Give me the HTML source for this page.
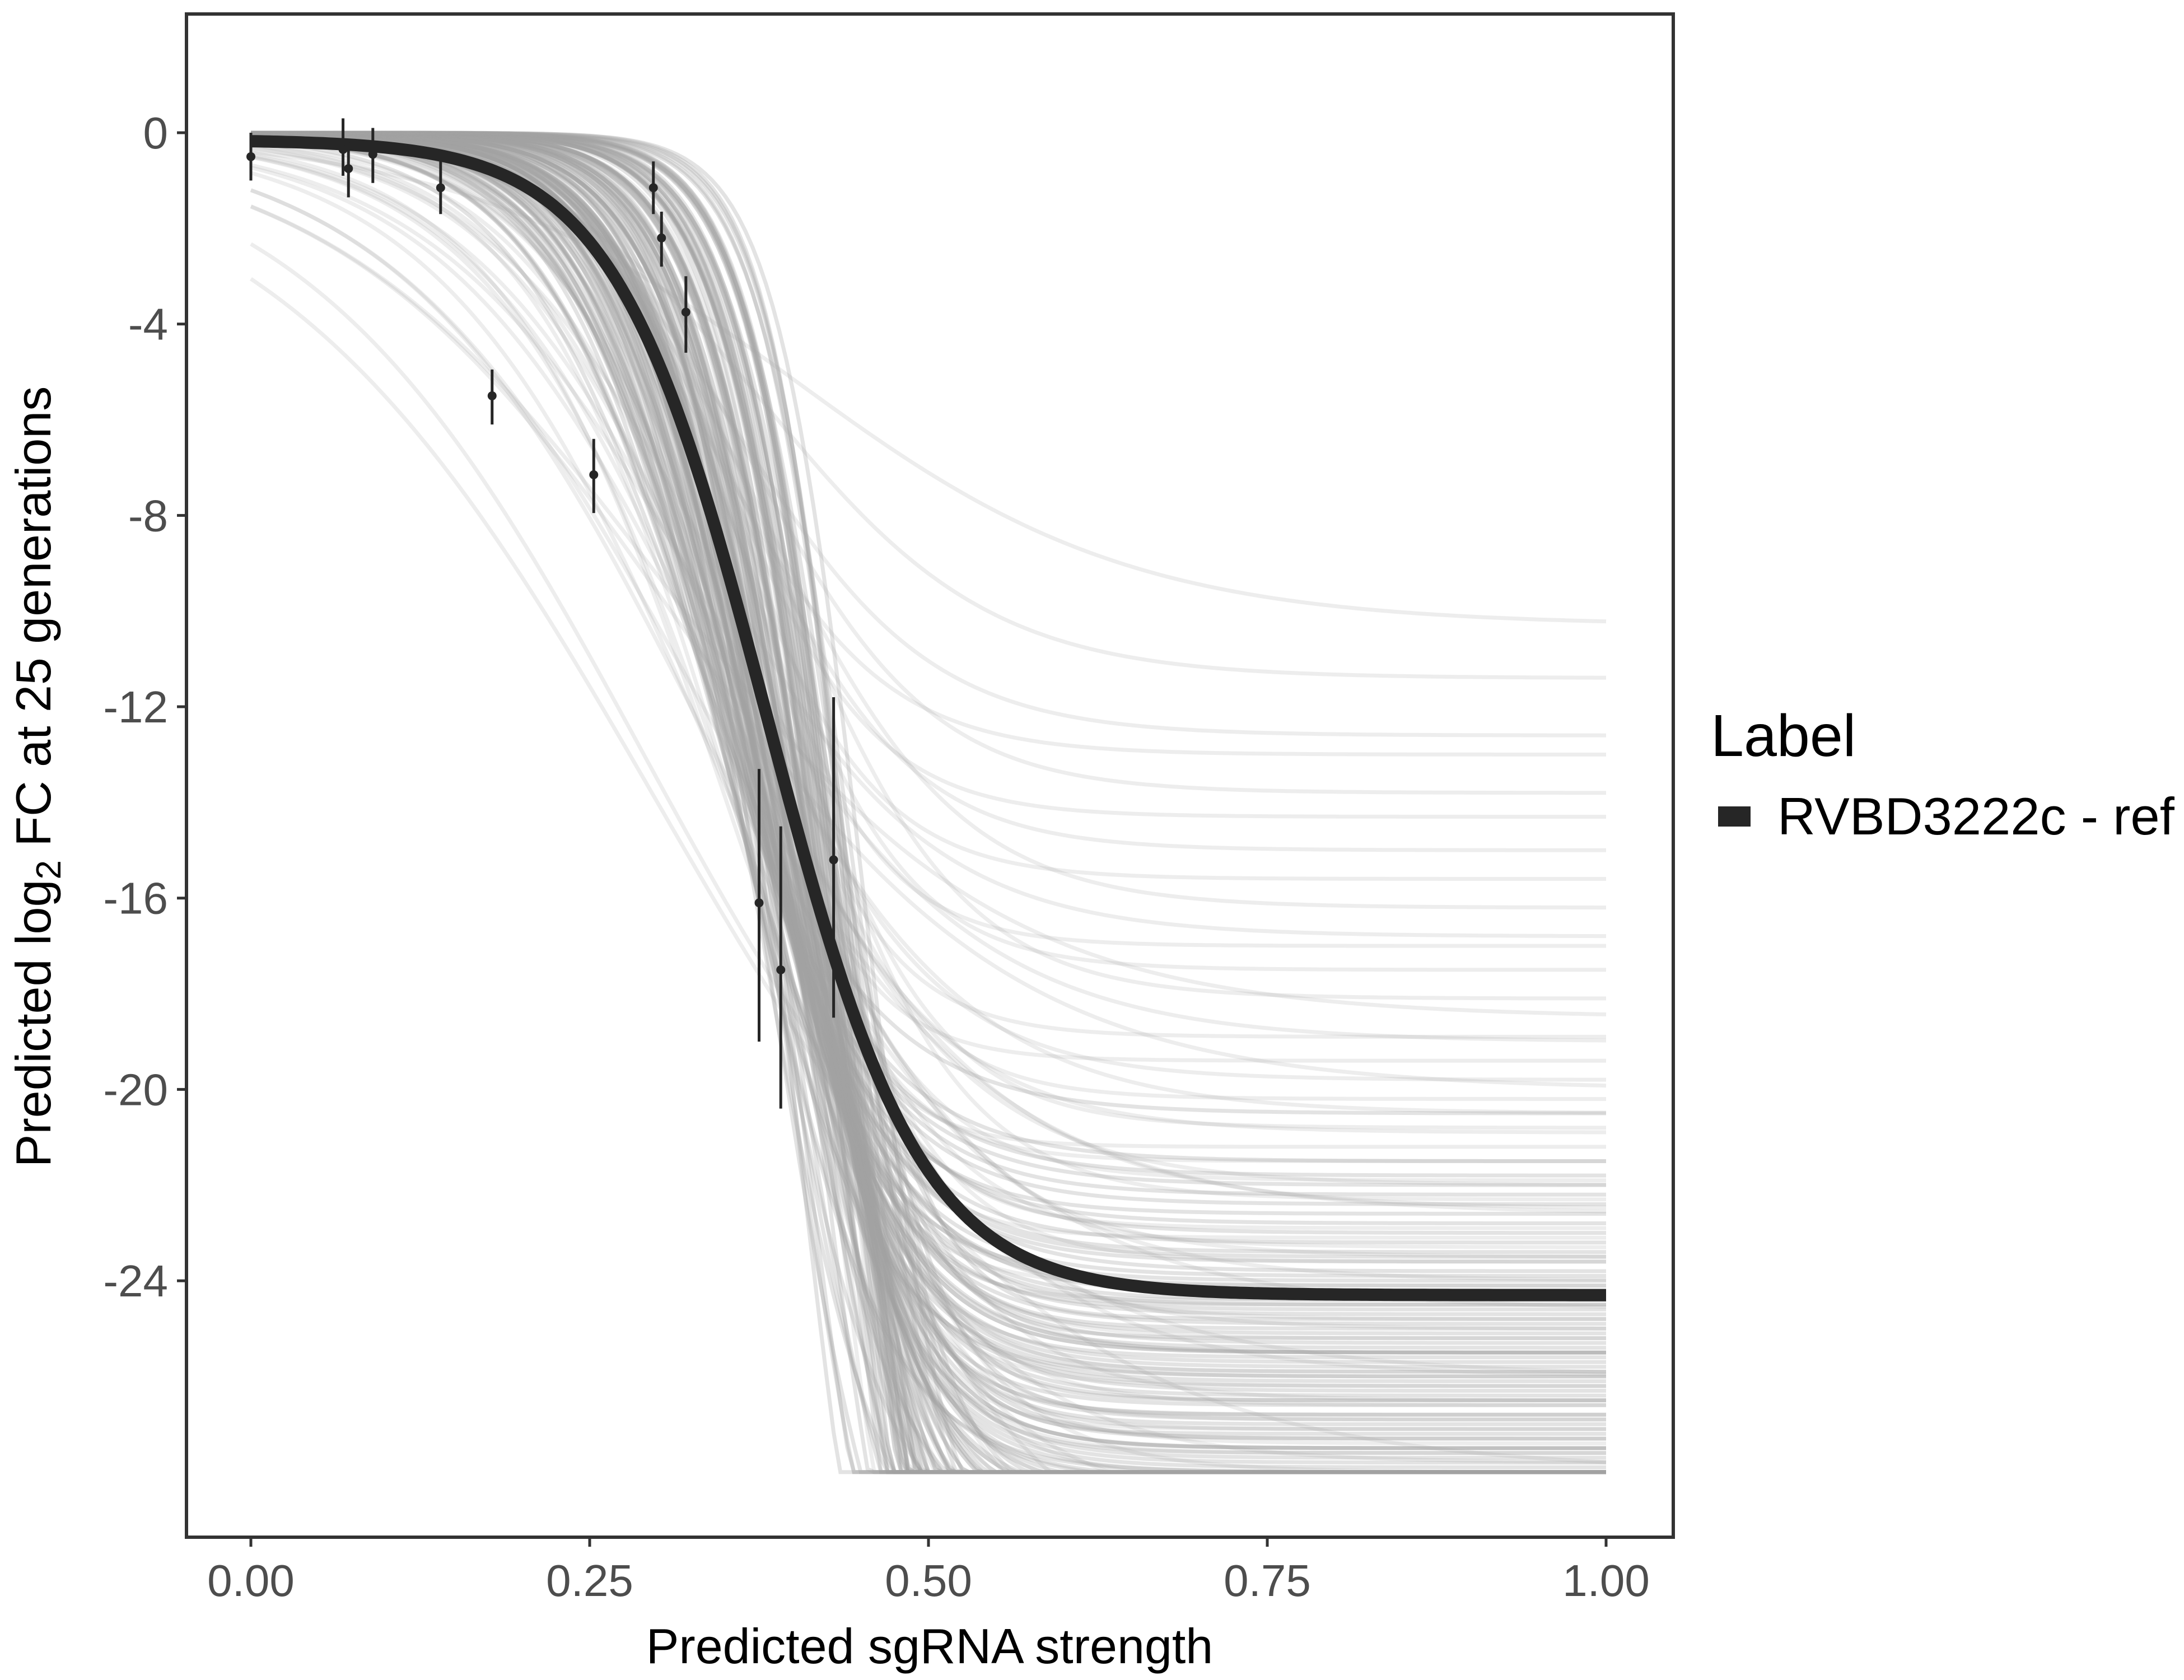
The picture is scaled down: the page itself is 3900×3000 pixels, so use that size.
<!DOCTYPE html>
<html><head><meta charset="utf-8"><style>
html,body{margin:0;padding:0;background:#fff;}
svg{display:block;font-family:"Liberation Sans",Arial,sans-serif;}
</style></head><body>
<svg id="chart" width="3900" height="3000" viewBox="0 0 3900 3000" xmlns="http://www.w3.org/2000/svg">
<rect width="3900" height="3000" fill="#fff"/>
<g id="grey"></g>
<g id="main"></g>
<g id="pts"></g>
<rect x="333" y="25" width="2655" height="2720" fill="none" stroke="#333" stroke-width="6"/>
<g id="xaxis"></g>
<g id="yaxis"></g>
<text x="1660" y="2970" font-size="88" text-anchor="middle" fill="#000">Predicted sgRNA strength</text>
<text transform="translate(90,1387) rotate(-90)" font-size="88" text-anchor="middle" fill="#000">Predicted  log<tspan font-size="62" dy="18">2</tspan><tspan dy="-18"> FC at 25 generations</tspan></text>
<text x="3055" y="1350" font-size="106" fill="#000">Label</text>
<rect x="3068" y="1440" width="58" height="36" fill="#262626"/>
<text x="3174" y="1490" font-size="94" fill="#000">RVBD3222c - ref</text>
</svg>
<script>
const xTicks=[0,0.25,0.5,0.75,1.0];
const xTickLabels=["0.00","0.25","0.50","0.75","1.00"];
const yTicks=[0,-4,-8,-12,-16,-20,-24];
const yTickLabels=["0","-4","-8","-12","-16","-20","-24"];
const curveL=[-10.3,-11.4,-12.6,-13.8,-14.3,-15.0,-16.2,-17.5,-18.1,-18.9,
-19.4,-20.2,-20.8,-21.5,-22.3,-22.9,-23.6,-24.1,-24.8,-25.5,
-26.2,-26.9,-27.4,-28.5,-29.6,-31.0,-32.5,-34.0,-36.0,-38.0,
-19.0,-20.5,-22.0,-23.5,-25.0,-26.5,-28.0,-30.0,-33.0,-35.0,
-21.2,-23.1,-24.4,-25.9,-27.1,-29.0,-31.5,-34.5,-37.0,-40.0,
-18.5,-22.6,-26.0,-27.8,-30.5,-24.6,-20.0,-28.8,-32.0,-36.5,
-13.0,-15.6,-17.0,-19.8,-21.9,-25.2,-27.6,-29.5,-33.5,-38.5,
-16.8,-20.9,-23.3,-26.6,-28.2,-30.8,-35.5,-39.0,-24.0,-22.5,-28.0,-26.0];
const curveMid=[0.40,0.38,0.36,0.37,0.35,0.36,0.38,0.37,0.39,0.36,
0.35,0.37,0.38,0.36,0.39,0.37,0.38,0.36,0.39,0.38,
0.37,0.38,0.39,0.40,0.40,0.41,0.41,0.42,0.43,0.43,
0.33,0.34,0.35,0.36,0.37,0.38,0.39,0.40,0.41,0.42,
0.36,0.37,0.38,0.39,0.40,0.41,0.42,0.43,0.44,0.44,
0.30,0.32,0.34,0.35,0.37,0.33,0.31,0.36,0.38,0.40,
0.34,0.35,0.36,0.35,0.36,0.37,0.38,0.39,0.40,0.42,
0.33,0.34,0.36,0.37,0.38,0.39,0.41,0.43,0.35,0.34,0.30,0.29];
const curveK=[8,12,14,15,18,16,14,18,15,20,
22,19,17,21,16,20,18,22,17,19,
21,20,19,22,24,23,25,24,26,27,
10,11,12,13,14,15,16,17,18,19,
24,23,25,22,26,24,27,26,28,30,
8,9,10,12,11,9,8,13,15,14,
16,18,20,14,17,19,21,20,22,25,
12,13,15,17,18,20,22,24,11,10,7,8];
const coreL=[-24,-26,-28,-30,-32,-25,-27,-29,-31,-35,
-23,-25.5,-27.5,-29.5,-33,-38,-24.5,-26.5,-28.5,-30.5,
-22,-24.2,-26.2,-28.2,-31.2,-34,-36,-40,-25.2,-27.2,
-23.4,-25.8,-27.8,-29.8,-32.8,-37,-24.8,-26.8,-28.8,-30.8,
-22.6,-24.6,-26.6,-28.6,-31.6,-34.6,-39,-25.6,-27.6,-29.2,
-23.8,-25.3,-27.3,-29.3,-32.3,-36.3,-24.3,-26.3,-28.3,-30.3,
-21.5,-23.5,-25.5,-27.5,-30,-33.5,-37.5,-26,-28,-31,
-22.8,-24.9,-26.9,-28.9,-31.9,-35.9,-23.2,-25.1,-27.1,-29.1,
-20.5,-22.4,-24.7,-27.9,-30.9,-34.9,-38.9,-25.9,-27.7,-29.7,
-23.6,-25.4,-26.4,-28.4,-32.4,-36.4,-24.1,-26.1,-28.1,-30.1,
-21.8,-23.9,-25.7,-27.3,-29.9,-33.9,-37.9,-24.4,-26.8,-28.6,
-22.2,-24.5,-26.5,-28.5,-31.5,-35.5,-39.5,-25.5,-27.5,-29.5];
const coreMid=[0.34,0.35,0.36,0.37,0.38,0.39,0.40,0.41,0.42,0.43,
0.35,0.36,0.37,0.38,0.39,0.40,0.41,0.42,0.43,0.44,
0.33,0.34,0.35,0.36,0.37,0.38,0.39,0.40,0.41,0.42,
0.36,0.37,0.38,0.39,0.40,0.41,0.42,0.43,0.44,0.45,
0.34,0.36,0.38,0.40,0.42,0.44,0.43,0.37,0.39,0.41,
0.35,0.37,0.39,0.41,0.43,0.45,0.36,0.38,0.40,0.42,
0.33,0.35,0.37,0.39,0.41,0.43,0.44,0.36,0.38,0.40,
0.34,0.36,0.38,0.40,0.42,0.44,0.35,0.37,0.39,0.41,
0.32,0.34,0.36,0.38,0.40,0.42,0.44,0.37,0.39,0.41,
0.35,0.37,0.38,0.40,0.42,0.44,0.36,0.38,0.40,0.42,
0.33,0.35,0.37,0.39,0.41,0.43,0.45,0.36,0.38,0.40,
0.34,0.36,0.38,0.40,0.42,0.44,0.45,0.37,0.39,0.41];
const coreK=[18,19,20,21,22,23,24,25,26,27,
17,18,20,22,23,24,26,27,28,30,
16,17,18,19,21,22,23,25,26,28,
19,20,21,23,24,25,27,28,29,31,
18,20,22,24,26,28,27,21,23,25,
17,19,21,24,27,30,18,20,23,26,
16,18,20,22,25,27,29,19,21,24,
17,19,21,23,26,28,18,20,22,25,
15,17,19,21,24,26,29,20,22,24,
18,20,21,23,26,29,19,21,24,27,
16,18,20,22,25,28,31,19,22,24,
17,19,21,24,26,29,32,20,22,25];
const fitParams=[-0.15,-24.3,0.381,17.8];
const ptX=[0.0,0.068,0.072,0.09,0.14,0.178,0.253,0.297,0.303,0.321,0.375,0.391,0.430];
const ptY=[-0.5,-0.35,-0.75,-0.45,-1.15,-5.5,-7.15,-1.15,-2.2,-3.75,-16.1,-17.5,-15.2];
const ptLo=[-1.0,-0.9,-1.35,-1.05,-1.7,-6.1,-7.95,-1.7,-2.8,-4.6,-19.0,-20.4,-18.5];
const ptHi=[0.0,0.3,-0.2,0.1,-0.6,-4.95,-6.4,-0.6,-1.65,-3.0,-13.3,-14.5,-11.8];

const NS="http://www.w3.org/2000/svg";
const X=v=>448+v*2420;
const Y=v=>237-v*85.42;
function mk(tag,attrs,parent){const e=document.createElementNS(NS,tag);for(const k in attrs)e.setAttribute(k,attrs[k]);parent.appendChild(e);return e;}
const grey=document.getElementById('grey');
function drawSet(Ls,Ms,Ks,op){
  for(let i=0;i<Ls.length;i++){
    let d="";
    for(let j=0;j<=200;j++){const x=j/200;let y=Ls[i]/(1+Math.exp(-Ks[i]*(x-Ms[i])));if(y<-28)y=-28;d+=(j?"L":"M")+X(x).toFixed(1)+" "+Y(y).toFixed(1);}
    const p=mk('path',{d:d,fill:"none",stroke:"#a3a3a3","stroke-width":7,"stroke-opacity":op},grey);
    
    
  }
}
drawSet(curveL,curveMid,curveK,0.2);
drawSet(coreL,coreMid,coreK,0.3);
{
  let d="";const [t,L,m,k]=fitParams;
  for(let j=0;j<=300;j++){const x=j/300;const y=t+(L-t)/(1+Math.exp(-k*(x-m)));d+=(j?"L":"M")+X(x).toFixed(1)+" "+Y(y).toFixed(1);}
  const p=mk('path',{d:d,fill:"none",stroke:"#262626","stroke-width":22},document.getElementById('main'));
  
  
}
const pts=document.getElementById('pts');
for(let i=0;i<ptX.length;i++){
  const l=mk('line',{x1:X(ptX[i]),x2:X(ptX[i]),y1:Y(ptLo[i]),y2:Y(ptHi[i]),stroke:"#262626","stroke-width":5},pts);
  
  
  const c=mk('circle',{cx:X(ptX[i]),cy:Y(ptY[i]),r:8,fill:"#262626"},pts);
  
  
}
const xa=document.getElementById('xaxis');
xTicks.forEach((v,i)=>{
  const t=mk('line',{x1:X(v),x2:X(v),y1:2745,y2:2762,stroke:"#333","stroke-width":5},xa);
  
  
  const s=mk('text',{x:X(v),y:2850,"font-size":80,"text-anchor":"middle",fill:"#4d4d4d"},xa);
  s.textContent=xTickLabels[i];
  
  
});
const ya=document.getElementById('yaxis');
yTicks.forEach((v,i)=>{
  const t=mk('line',{x1:316,x2:333,y1:Y(v),y2:Y(v),stroke:"#333","stroke-width":5},ya);
  
  
  const s=mk('text',{x:300,y:Y(v)+28,"font-size":80,"text-anchor":"end",fill:"#4d4d4d"},ya);
  s.textContent=yTickLabels[i];
  
  
});
</script>
</body></html>
